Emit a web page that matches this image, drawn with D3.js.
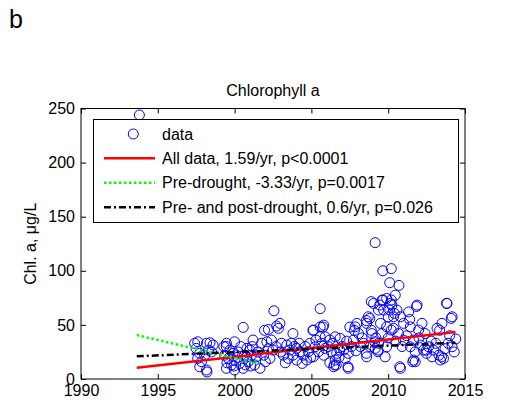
<!DOCTYPE html>
<html>
<head>
<meta charset="utf-8">
<script src="https://cdn.jsdelivr.net/npm/d3@7"></script>
<style>
  html, body { margin: 0; padding: 0; background: #fff; }
  svg { display: block; }
  text { font-family: "Liberation Sans", Arial, Helvetica, sans-serif; }
</style>
</head>
<body>
<svg id="chart" width="526" height="408"></svg>
<script>
// ---- data ----
const sampleYears = [
  1993.8,
  1997.4,1997.6,1998.17,1998.4,1998.6,1997.5,1997.73,1997.6,1997.84,1997.73,1998.17,1998.3,1998.5,1998.05,1998.2,
  1999.47,2000.0,2000.56,1999.7,1999.9,2000.23,2000.8,2001.0,1999.6,2000.0,1999.8,2000.34,2000.56,2000.88,1999.47,2000.8,2001.1,2000.0,1999.46,
  1999.3,1999.35,1999.5,2000.2,2000.4,2000.65,2000.7,1999.95,2001.05,2001.15,
  2001.95,2002.4,
  2002.56,2002.2,2002.74,2002.95,2002.85,2003.8,2005.57,2005.13,2005.57,2001.2,2001.76,2002.1,2001.4,2001.3,2001.65,2002.0,2002.3,2002.5,
  2003.06,2003.4,2003.7,2003.17,2003.5,2003.8,2004.04,2004.4,2004.47,2004.9,2005.24,2004.8,2005.13,2005.46,2005.68,2005.57,2004.04,2004.26,2003.6,2004.7,
  2001.5,2001.9,2002.2,2002.7,2003.0,2003.3,2003.9,2004.2,2004.6,2004.95,2005.3,2005.8,
  2005.8,2005.9,2006.2,2006.55,2006.87,2005.9,2006.3,2006.65,2007.1,2006.55,2006.45,2007.2,2007.4,2007.4,2007.85,2007.96,2008.07,2007.74,2008.4,2008.6,
  2008.7,2008.94,2008.83,2008.6,2009.05,2009.37,2009.6,2009.9,2009.7,2010.0,2009.5,2009.9,2010.13,2010.2,2009.16,2009.37,2009.9,2009.8,
  2006.62,2006.2,2008.58,2009.34,2007.5,2007.8,2008.58,2008.8,2008.9,2009.45,2009.66,2010.2,2010.1,2010.4,2009.12,2009.33,2006.85,2006.5,2007.38,2005.75,2005.1,
  2006.1,2006.4,2006.8,2007.0,2007.3,2007.6,2007.9,2008.2,2008.3,2008.9,2009.2,2009.6,2010.0,
  2009.15,2009.65,2010.2,2010.1,2010.7,
  2010.46,2010.24,2010.57,2010.35,2010.8,2011.0,2011.33,2011.88,2011.44,2012.2,2011.98,2013.83,2014.16,2013.5,2013.18,2014.4,2010.35,2010.68,
  2011.0,2011.65,2012.1,2012.3,2012.63,2012.96,2013.3,2013.4,2013.6,2012.85,2012.5,2011.76,2011.44,2011.65,2011.76,2010.8,2013.9,2014.16,
  2012.49,2013.47,2011.84,2013.8,2014.1,2010.75,2011.6,2013.35,
  2010.5,2010.9,2011.2,2011.4,2012.0,2012.4,2012.8,2013.1,2013.7,2014.0,2014.3
];
const chlValues = [
  244,
  33,34.4,33,33.5,31.4,28.3,23.7,19,16,11.3,8.3,26.7,25,22,6.5,
  33,34.4,47.7,26.7,23.7,25,28.3,26.7,19,17.5,13,14.4,9.9,16,9.9,20.5,22,8.3,30,
  30,22,15,20,30,22,13,12,12,30,
  45,36,
  63,45.8,48.9,51.4,46.8,42,65,45.2,48.2,36,33,34.4,20.5,13,9.9,16,19,26.7,
  33,31.4,33,22,19,22,17.5,14.4,22,33,29.8,25.2,20.5,25.2,33,39,28.3,25.2,26.7,17.5,
  25,22,28,30,25,15,30,33,30,20,36,22,
  49.8,39,36,39,37.5,28.3,25.2,23.7,26.7,17.5,11.3,19,23.7,9.9,48.2,51.4,42,36,33,51.4,
  57.5,42,29.8,20.5,69.8,63.7,72.9,74.4,63.7,57.5,51.4,48.2,69.8,45.2,28.3,33,29.8,20.5,
  12.9,15,23.7,26.7,48,45,54,56,71.5,68.3,73,73,63.7,60.6,34.4,25.2,26.7,13,11.3,48,45,
  30,33,20,30,35,30,26,30,38,45,38,42,38,
  126,100,102,89,86.5,
  77.5,68.3,63.7,57.5,57.5,51.4,62,68.3,48.2,51.4,45.2,69.8,57.5,51.4,46.8,37,46.8,42,
  36,36,31.4,26.7,29.8,26.7,22,17.5,19,20.5,23.7,25.2,29.8,17.5,16,9.9,33,29.8,
  26.7,20.5,67,70,56,11.3,16,45,
  35,30,40,55,38,42,35,33,28,40,25
];

// trend lines (end points)
const allFitYears = [1993.63, 2014.38];
const allFitValues = [10.4, 43.4];
const preFitYears = [1993.63, 2001.63];
const preFitValues = [40.6, 14.0];
const prePostFitYears = [1993.63, 2014.38];
const prePostFitValues = [21.0, 33.5];

const xTicks = [1990, 1995, 2000, 2005, 2010, 2015];
const yTicks = [0, 50, 100, 150, 200, 250];

const legendLabels = [
  "data",
  "All data, 1.59/yr, p<0.0001",
  "Pre-drought, -3.33/yr, p=0.0017",
  "Pre- and post-drought, 0.6/yr, p=0.026"
];

// ---- layout ----
const svg = d3.select("#chart");
const L = 81, R = 465, T = 108.5, B = 379;
const x = d3.scaleLinear().domain([1990, 2015]).range([L, R]);
const y = d3.scaleLinear().domain([0, 250]).range([B, T]);

const fs = 16;

// "b" panel label
svg.append("text").attr("x", 9).attr("y", 28)
  .attr("font-size", 25).attr("fill", "#000").text("b");

// title
svg.append("text").attr("x", (L + R) / 2).attr("y", 96)
  .attr("text-anchor", "middle").attr("font-size", fs).attr("fill", "#000")
  .text("Chlorophyll a");

// y label
svg.append("text")
  .attr("transform", `translate(36,${(T + B) / 2}) rotate(-90)`)
  .attr("text-anchor", "middle").attr("font-size", fs).attr("fill", "#000")
  .text("Chl. a, \u03bcg/L");

// axes
function styleAxis(g) {
  g.select(".domain").remove();
  g.selectAll("line").attr("stroke", "#000").attr("stroke-width", 1);
  g.selectAll("text").attr("font-size", fs).attr("fill", "#000")
    .attr("font-family", '"Liberation Sans", Arial, sans-serif');
}
svg.append("g").attr("transform", `translate(0,${B})`)
  .call(d3.axisBottom(x).tickValues(xTicks).tickFormat(d3.format("d"))
    .tickSizeInner(-5).tickSizeOuter(0).tickPadding(6))
  .call(styleAxis);
svg.append("g").attr("transform", `translate(0,${T})`)
  .call(d3.axisTop(x).tickValues(xTicks).tickFormat("")
    .tickSizeInner(-5).tickSizeOuter(0))
  .call(styleAxis);
svg.append("g").attr("transform", `translate(${L},0)`)
  .call(d3.axisLeft(y).tickValues(yTicks).tickFormat(d3.format("d"))
    .tickSizeInner(-5).tickSizeOuter(0).tickPadding(6))
  .call(styleAxis);
svg.append("g").attr("transform", `translate(${R},0)`)
  .call(d3.axisRight(y).tickValues(yTicks).tickFormat("")
    .tickSizeInner(-5).tickSizeOuter(0))
  .call(styleAxis);

// plot box
svg.append("rect").attr("x", L).attr("y", T).attr("width", R - L).attr("height", B - T)
  .attr("fill", "none").attr("stroke", "#000").attr("stroke-width", 1);

// data points
const pts = sampleYears.map((yr, i) => ({ yr, v: chlValues[i] }));
svg.append("g").selectAll("circle").data(pts).join("circle")
  .attr("cx", d => x(d.yr)).attr("cy", d => y(d.v)).attr("r", 5)
  .attr("fill", "none").attr("stroke", "#0000ff").attr("stroke-width", 1);

// trend lines
const line = d3.line().x(d => x(d[0])).y(d => y(d[1]));
const styles = [
  { stroke: "#ff0000", dash: null },
  { stroke: "#00ff00", dash: "2.5,2.5" },
  { stroke: "#000000", dash: "7,3,2,3" }
];
const fits = [
  d3.zip(allFitYears, allFitValues),
  d3.zip(preFitYears, preFitValues),
  d3.zip(prePostFitYears, prePostFitValues)
];
fits.forEach((f, i) => {
  svg.append("path").attr("d", line(f)).attr("fill", "none")
    .attr("stroke", styles[i].stroke).attr("stroke-width", 2.5)
    .attr("stroke-dasharray", styles[i].dash);
});

// legend
const lg = svg.append("g");
lg.append("rect").attr("x", 93.5).attr("y", 119.5).attr("width", 365).attr("height", 103)
  .attr("fill", "#fff").attr("stroke", "#000").attr("stroke-width", 1);
const rowY = [134, 158.3, 182.7, 207.3];
legendLabels.forEach((lab, i) => {
  const ry = rowY[i];
  if (i === 0) {
    lg.append("circle").attr("cx", 133.3).attr("cy", ry).attr("r", 5)
      .attr("fill", "none").attr("stroke", "#0000ff").attr("stroke-width", 1);
  } else {
    const s = styles[i - 1];
    lg.append("line").attr("x1", 104).attr("x2", 155).attr("y1", ry).attr("y2", ry)
      .attr("stroke", s.stroke).attr("stroke-width", 2.5)
      .attr("stroke-dasharray", s.dash);
  }
  lg.append("text").attr("x", 162).attr("y", ry).attr("dy", "0.36em")
    .attr("font-size", fs).attr("fill", "#000").text(lab);
});
</script>
</body>
</html>
